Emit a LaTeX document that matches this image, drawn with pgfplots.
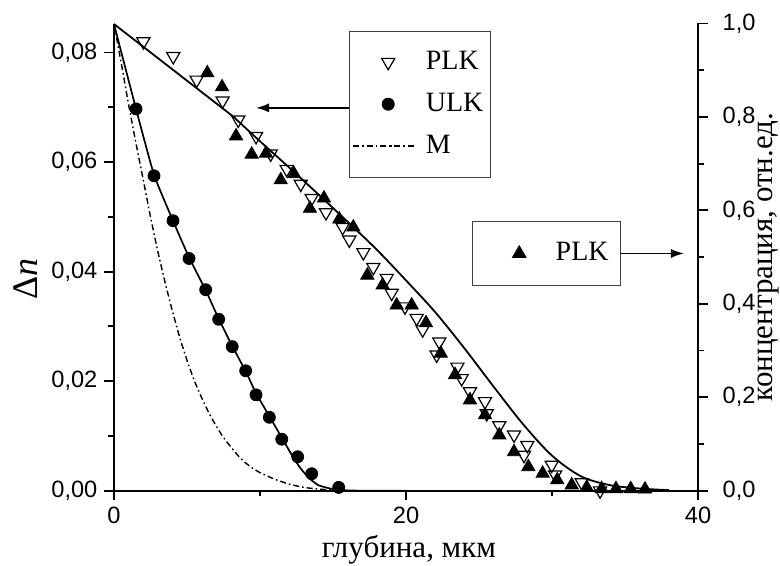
\documentclass[border=0pt]{standalone}
\usepackage{fontspec}
\setmainfont{Liberation Serif}
\setsansfont{Liberation Sans}
\usepackage{pgfplots}
\pgfplotsset{compat=1.18}
\usetikzlibrary{arrows.meta}
\newcommand{\legf}{\fontsize{14}{16}\selectfont}

\begin{document}
\begin{tikzpicture}
\useasboundingbox (-57pt,-37.65pt) rectangle (333pt,245.35pt);
\pgfplotsset{
  common/.style={
    width=292pt, height=233.6pt, scale only axis,
    xmin=0, xmax=40,
    tick align=outside,
    major tick length=4.8pt, minor tick length=2.9pt,
    every tick/.style={black, line width=0.9pt},
    axis line style={line width=1pt, -},
    tick label style={font=\sffamily\fontsize{11.8}{13}\selectfont},
    /pgf/number format/assume math mode=true,
    /pgf/number format/use comma,
    label style={font=\fontsize{15.5}{17}\selectfont},
  },
  leg1img/.style={legend image code/.code={\path (0pt,0pt) (31pt,0pt);
    \draw[mark repeat=2,mark phase=2,##1] plot coordinates {(-3pt,0pt) (14.5pt,0pt) (28.5pt,0pt)};}},
  leg2img/.style={legend image code/.code={\path (0pt,0pt) (35pt,0pt);
    \draw[mark repeat=2,mark phase=2,##1] plot coordinates {(0pt,0pt) (19pt,0pt) (35pt,0pt)};}},
}
\begin{axis}[common,
  axis x line*=bottom, axis y line*=left,
  ymin=0, ymax=0.0853,
  xtick={0,20,40}, minor xtick={10,30},
  ytick={0,0.02,0.04,0.06,0.08}, minor ytick={0.01,0.03,0.05,0.07},
  yticklabel style={/pgf/number format/.cd, fixed, fixed zerofill, precision=2, use comma},
  scaled y ticks=false,
  xlabel={глубина, мкм},
  xlabel style={at={(axis description cs:0.505,-0.127)}, anchor=center},
  ylabel={\fontsize{18}{20}\selectfont Δ\textit{n}},
  ylabel style={at={(axis description cs:-0.152,0.454)}, anchor=center},
  legend style={at={(axis description cs:0.4024,0.9846)}, anchor=north west,
    draw=black!75, line width=0.5pt,
    inner xsep=1.5pt, inner ysep=9pt, row sep=8pt,
    nodes={inner xsep=2pt, inner ysep=0pt, text height=10pt, text depth=3pt},
    cells={anchor=west}, name=leg1},
]
% PLK fit curve (solid)
\addplot[black, line width=0.9pt, forget plot] coordinates {
(0,0.0852) (8.17,0.0683)
};
\addplot[black, line width=0.9pt, smooth, tension=0.5, forget plot] coordinates {
(8.17,0.0683) (10,0.0638) (12,0.0590) (14,0.0541) (16,0.0491)
(18,0.0440) (20,0.0384) (22,0.0326) (24,0.0260) (26,0.0190) (28,0.0122)
(30,0.0064) (32,0.0026) (34,0.0010) (36,0.0004) (38,0.0001)
};
% ULK fit curve (solid)
\addplot[black, line width=0.85pt, smooth, tension=0.3, forget plot] coordinates {
(0,0.0852) (1.51,0.0697) (2.74,0.0577) (4.04,0.0493) (5.14,0.0426) (6.28,0.0366)
(7.17,0.0314) (8.1,0.0264) (9.02,0.0218) (9.73,0.0178) (10.64,0.0136) (11.49,0.0097)
(12.2,0.0064) (12.8,0.0040) (13.4,0.0022) (14.0,0.0010) (14.8,0.0004) (15.6,0.0001) (17,0) (20,0)
};
% PLK open triangles
\addplot[only marks, leg1img, mark=triangle, mark size=3.8pt, mark options={rotate=180, line width=0.6pt, black}] coordinates {
(2.01,0.0820) (4.06,0.0793) (5.66,0.0750) (7.44,0.0712) (8.51,0.0677) (9.73,0.0647)
(10.73,0.0615) (11.83,0.0587) (12.79,0.0560) (13.54,0.0534) (14.52,0.0508) (15.66,0.0481)
(16.12,0.0458) (17.08,0.0435) (17.76,0.0408) (18.68,0.0388) (19.02,0.0361) (19.93,0.0336)
(20.73,0.0315) (21.14,0.0294) (22.28,0.0272) (22.1,0.0248) (23.52,0.0226) (23.81,0.0205)
(24.38,0.0181) (25.41,0.0163) (25.53,0.0141) (26.39,0.0119) (27.40,0.0102) (28.31,0.0083)
(28.08,0.0065) (29.98,0.0047) (30.21,0.0029) (32.03,0.0015) (33.29,0.0000)
};
\addlegendentry{\legf PLK}
% ULK circles
\addplot[only marks, leg1img, mark=*, mark size=3pt, mark options={black, fill=black}] coordinates {
(1.51,0.0697) (2.74,0.0575) (4.04,0.0493) (5.14,0.0424) (6.28,0.0367) (7.17,0.0313)
(8.10,0.0263) (9.02,0.0219) (9.73,0.0175) (10.64,0.0134) (11.49,0.0094) (12.58,0.0062)
(13.54,0.0031) (15.39,0.0006)
};
\addlegendentry{\legf ULK}
% M dash-dot
\addplot[black, leg1img, line width=0.7pt, dash pattern=on 3pt off 1.5pt on 0.8pt off 1.5pt, smooth, tension=0.3] coordinates {
(0,0.0852) (0.5,0.0780) (1,0.0705) (1.5,0.0635) (2,0.0568) (2.5,0.0500) (3,0.0437)
(3.5,0.0380) (4,0.0328) (4.5,0.0280) (5,0.0238) (5.5,0.0201) (6,0.0170) (6.5,0.0142)
(7,0.0118) (7.5,0.0097) (8,0.0080) (8.5,0.0064) (9,0.0051) (9.5,0.0041) (10,0.0033)
(11,0.0021) (12,0.0012) (13,0.0006) (14,0.0003) (15,0.0001) (16,0)
};
\addlegendentry{\legf M}
\coordinate (a1) at (axis cs:9.73,0.0699);
\end{axis}

\begin{axis}[common,
  axis y line*=right, axis x line=none,
  ymin=0, ymax=1,
  ytick={0,0.2,0.4,0.6,0.8,1.0}, minor ytick={0.1,0.3,0.5,0.7,0.9},
  yticklabel style={xshift=4pt, /pgf/number format/.cd, fixed, fixed zerofill, precision=1, use comma},
  ylabel={концентрация, отн.ед.},
  ylabel style={at={(axis description cs:1.12,0.5)}, anchor=center},
  legend style={at={(axis description cs:0.6134,0.5773)}, anchor=north west,
    draw=black!75, line width=0.5pt,
    inner xsep=4pt, inner ysep=9.5pt,
    nodes={inner xsep=2pt, inner ysep=0pt, text height=10pt, text depth=3pt},
    cells={anchor=west}, name=leg2},
]
\addplot[only marks, leg2img, mark=triangle*, mark size=3.8pt, mark options={black, fill=black}] coordinates {
(6.39,0.894) (7.40,0.864) (8.36,0.759) (9.43,0.720) (10.41,0.722) (11.42,0.665)
(12.33,0.678) (13.42,0.604) (14.38,0.626) (15.43,0.581) (16.39,0.564) (17.35,0.461)
(18.40,0.440) (19.36,0.397) (20.39,0.397) (21.37,0.359) (22.38,0.294) (23.36,0.248)
(24.38,0.194) (25.41,0.162) (26.39,0.119) (27.40,0.083) (28.38,0.051) (29.36,0.037)
(30.36,0.023) (31.35,0.012) (32.38,0.007) (33.4,0.004) (34.38,0.004) (35.39,0.004) (36.37,0.003)
};
\addlegendentry{\legf PLK}
\coordinate (a2) at (axis cs:39.04,0.504);
\end{axis}
\draw[line width=0.8pt, -{Latex[length=6.5pt,width=4.5pt]}] (leg1.west |- a1) -- (a1);
\draw[line width=0.8pt, -{Latex[length=6.5pt,width=4.5pt]}] (leg2.east) -- (a2 |- leg2.east);
\end{tikzpicture}
\end{document}
